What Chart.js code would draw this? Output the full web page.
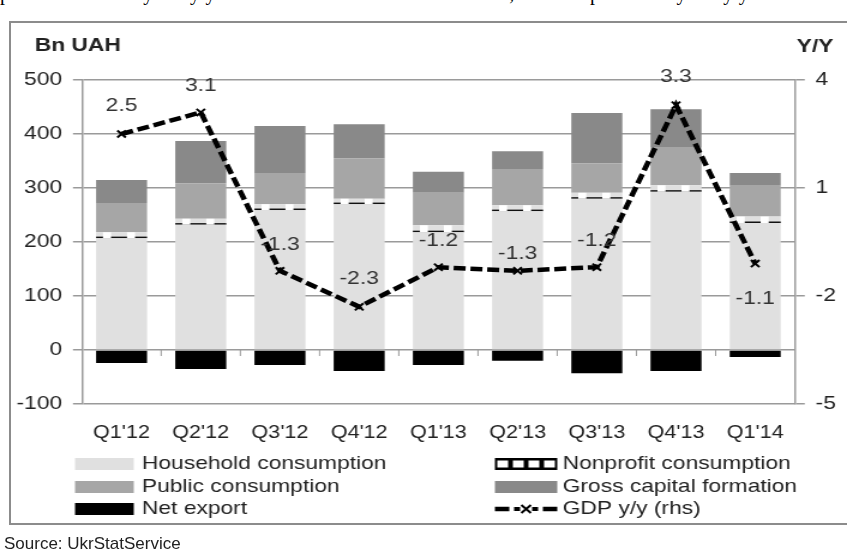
<!DOCTYPE html>
<html><head><meta charset="utf-8">
<script src="https://cdn.jsdelivr.net/npm/chart.js@4"></script>
<style>
html,body{margin:0;padding:0;background:#fff;width:847px;height:554px;overflow:hidden;position:relative;font-family:"Liberation Sans",Arial,sans-serif}
#top{position:absolute;left:0;top:-18px;white-space:nowrap;font-family:"Liberation Serif","Times New Roman",serif;font-size:20px;color:#000}
#box{position:absolute;left:9px;top:21px;width:860px;height:504px;border:2px solid #8c8c8c;box-sizing:border-box}
#wrap{position:absolute;left:0;top:0;width:706px;height:554px;transform:scaleX(1.19972);transform-origin:0 0}
#src{position:absolute;left:4px;top:534px;font-size:17px;color:#222}
</style></head><body>
<div id="top">ports contracted by 2% y/y and amounted to UAH 102.3 billion, while imports fell by 7% y/y</div>
<div id="box"></div>
<div id="wrap"><canvas id="c" width="706" height="554"></canvas></div>
<div id="src">Source: UkrStatService</div>
<script>
const categories = ["Q1'12","Q2'12","Q3'12","Q4'12","Q1'13","Q2'13","Q3'13","Q4'13","Q1'14"];
const household    = [207, 232, 259, 270, 218, 257, 280, 293, 235];
const nonprofit    = [11, 11, 11, 10, 13, 11, 11, 12, 12];
const publicCons   = [54, 66, 58, 75, 60, 67, 55, 71, 57];
const grossCapital = [43, 78, 87, 63, 39, 33, 93, 70, 24];
const netExport    = [-24, -35, -28, -39, -28, -20, -43, -39, -13];
const gdpYoY       = [2.5, 3.1, -1.3, -2.3, -1.2, -1.3, -1.2, 3.3, -1.1];
const leftTicks  = [-100, 0, 100, 200, 300, 400, 500];
const rightTicks = [-5, -2, 1, 4];
const seriesNames = ["Household consumption","Nonprofit consumption","Public consumption","Gross capital formation","Net export","GDP y/y (rhs)"];

const FONT = '"Liberation Sans", Arial, sans-serif';
const C_HH = '#e0e0e0', C_PUB = '#a6a6a6', C_GCF = '#898989', C_NX = '#000000';
const labelOffsets = [-28, -27, -26, -28, -26, -17, -26, -28, 35];

Chart.defaults.font.family = FONT;
Chart.defaults.font.size = 19;
Chart.defaults.color = '#222';

const nonprofitPlugin = {
  id: 'nonprofitPattern',
  afterDatasetDraw(chart, args) {
    if (args.index !== 1) return;
    const ctx = chart.ctx;
    ctx.save();
    args.meta.data.forEach(el => {
      const p = el.getProps(['x','y','base','width'], true);
      const left = p.x - p.width / 2;
      const top = Math.min(p.y, p.base), bot = Math.max(p.y, p.base);
      ctx.fillStyle = '#111';
      ctx.fillRect(left, bot - 1.6, p.width, 1.6);
      ctx.fillStyle = '#fff';
      [5.8, 25.8].forEach(o => ctx.fillRect(left + o, top, 6.7, bot - top));
    });
    ctx.restore();
  }
};

const extrasPlugin = {
  id: 'extras',
  beforeDatasetsDraw(chart) {
    const ctx = chart.ctx, xs = chart.scales.x, ys = chart.scales.y;
    const y0 = ys.getPixelForValue(0);
    ctx.save();
    ctx.strokeStyle = '#999'; ctx.lineWidth = 1;
    for (let i = 0; i < categories.length - 1; i++) {
      const x = (xs.getPixelForValue(i) + xs.getPixelForValue(i + 1)) / 2;
      ctx.beginPath(); ctx.moveTo(x, y0); ctx.lineTo(x, y0 + 6); ctx.stroke();
    }
    ctx.restore();
  },
  afterDatasetsDraw(chart) {
    const ctx = chart.ctx;
    const meta = chart.getDatasetMeta(5);
    ctx.save();
    ctx.font = '19px ' + FONT;
    ctx.fillStyle = '#333';
    ctx.textAlign = 'center';
    ctx.textBaseline = 'middle';
    meta.data.forEach((pt, i) => {
      ctx.fillText(String(gdpYoY[i]), pt.x, pt.y + labelOffsets[i]);
    });
    ctx.restore();
  },
  afterDraw(chart) {
    const ctx = chart.ctx;
    ctx.save();
    ctx.fillStyle = '#222';
    ctx.textBaseline = 'middle';
    ctx.font = 'bold 19px ' + FONT;
    ctx.textAlign = 'left';
    ctx.fillText('Bn UAH', 29, 46);
    ctx.fillText('Y/Y', 664, 47);

    // legend
    ctx.font = '19px ' + FONT;
    const rows = [464, 487, 509];
    const c1 = {sx: 62.5, sw: 49, tx: 118.3};
    const c2 = {sx: 412.5, sw: 52, tx: 469};
    const items = [
      {col: c1, row: 0, name: seriesNames[0], kind: 'fill', color: C_HH},
      {col: c1, row: 1, name: seriesNames[2], kind: 'fill', color: C_PUB},
      {col: c1, row: 2, name: seriesNames[4], kind: 'fill', color: C_NX},
      {col: c2, row: 0, name: seriesNames[1], kind: 'np'},
      {col: c2, row: 1, name: seriesNames[3], kind: 'fill', color: C_GCF},
      {col: c2, row: 2, name: seriesNames[5], kind: 'line'}
    ];
    items.forEach(it => {
      const y = rows[it.row], x = it.col.sx, w = it.col.sw;
      if (it.kind === 'fill') {
        ctx.fillStyle = it.color;
        ctx.fillRect(x, y - 6, w, 12);
      } else if (it.kind === 'np') {
        ctx.fillStyle = '#000';
        ctx.fillRect(x, y - 6, w, 12);
        ctx.fillStyle = '#fff';
        const n = 4, step = w / n;
        for (let k = 0; k < n; k++) ctx.fillRect(x + k * step + 2, y - 3.5, step - 4, 7);
      } else {
        ctx.strokeStyle = '#000'; ctx.lineWidth = 4.5;
        ctx.beginPath(); ctx.moveTo(x, y); ctx.lineTo(x + 12, y); ctx.stroke();
        ctx.beginPath(); ctx.moveTo(x + w - 12, y); ctx.lineTo(x + w, y); ctx.stroke();
        ctx.lineWidth = 2;
        const cx = x + w / 2, r = 4;
        ctx.beginPath();
        ctx.moveTo(cx - r, y - r); ctx.lineTo(cx + r, y + r);
        ctx.moveTo(cx - r, y + r); ctx.lineTo(cx + r, y - r);
        ctx.stroke();
        ctx.fillStyle = '#000';
        ctx.fillRect(cx - 10, y - 2, 5, 4);
        ctx.fillRect(cx + 5, y - 2, 5, 4);
      }
      ctx.fillStyle = '#222';
      ctx.textAlign = 'left';
      ctx.fillText(it.name, it.col.tx, y);
    });
    ctx.restore();
  }
};

const barCommon = {type: 'bar', stack: 's', yAxisID: 'y', order: 1, barPercentage: 0.644, categoryPercentage: 1, borderWidth: 0};

new Chart(document.getElementById('c'), {
  data: {
    labels: categories,
    datasets: [
      Object.assign({label: seriesNames[0], data: household, backgroundColor: C_HH}, barCommon),
      Object.assign({label: seriesNames[1], data: nonprofit, backgroundColor: C_HH}, barCommon),
      Object.assign({label: seriesNames[2], data: publicCons, backgroundColor: C_PUB}, barCommon),
      Object.assign({label: seriesNames[3], data: grossCapital, backgroundColor: C_GCF}, barCommon),
      Object.assign({label: seriesNames[4], data: netExport, backgroundColor: C_NX}, barCommon),
      {type: 'line', label: seriesNames[5], data: gdpYoY, yAxisID: 'y1', order: 0,
       borderColor: '#000', borderWidth: 4.5, borderDash: [10, 4], borderCapStyle: 'butt',
       pointStyle: 'crossRot', pointRadius: 5, pointBorderWidth: 2, pointBorderColor: '#000',
       pointBackgroundColor: '#000', tension: 0, fill: false}
    ]
  },
  options: {
    responsive: false,
    animation: false,
    devicePixelRatio: 1,
    layout: {padding: {left: 0, right: 0, top: 80, bottom: 110}},
    plugins: {legend: {display: false}, tooltip: {enabled: false}},
    scales: {
      x: {
        stacked: true,
        grid: {display: false, drawTicks: false},
        border: {display: false},
        ticks: {font: {size: 18}, color: '#222', padding: 18, maxRotation: 0},
        afterFit: s => { s.height = 40; }
      },
      y: {
        stacked: true,
        position: 'left',
        min: leftTicks[0], max: leftTicks[leftTicks.length - 1],
        afterBuildTicks: s => { s.ticks = leftTicks.map(v => ({value: v})); },
        grid: {color: '#9a9a9a', lineWidth: 1.5, tickLength: 7.5, drawTicks: true},
        border: {display: true, color: '#9a9a9a', width: 1.5},
        ticks: {padding: 9, color: '#222', font: {size: 19}},
        afterFit: s => { s.width = 68.3; }
      },
      y1: {
        position: 'right',
        min: rightTicks[0], max: rightTicks[rightTicks.length - 1],
        afterBuildTicks: s => { s.ticks = rightTicks.map(v => ({value: v})); },
        grid: {drawOnChartArea: false, color: '#9a9a9a', lineWidth: 1.5, tickLength: 8.3},
        border: {display: true, color: '#9a9a9a', width: 1.5},
        ticks: {padding: 9, color: '#222', font: {size: 19}},
        afterFit: s => { s.width = 706 - 662.5; }
      }
    }
  },
  plugins: [nonprofitPlugin, extrasPlugin]
});
</script>
</body></html>
